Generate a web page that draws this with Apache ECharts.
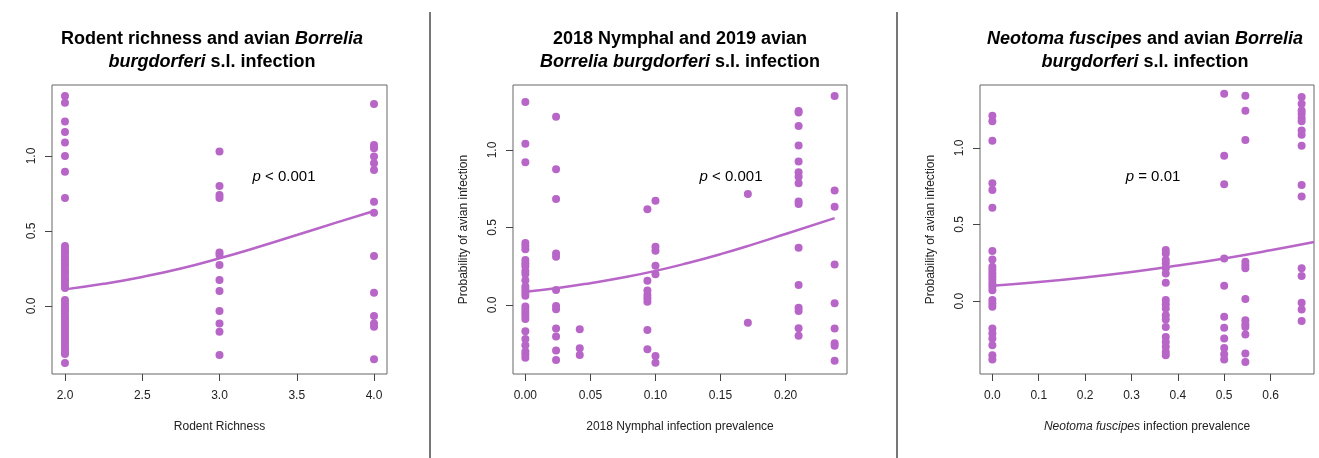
<!DOCTYPE html>
<html>
<head>
<meta charset="utf-8">
<script src="https://cdn.jsdelivr.net/npm/echarts@6/dist/echarts.min.js"></script>
<style>
  html, body { margin: 0; padding: 0; background: #fff; }
  #chart { width: 1319px; height: 458px; }
</style>
</head>
<body>
<div id="chart"></div>
<script>
// ---------- Panel 1: rodent richness ----------
const richnessLevels = [2, 3, 4];
const richnessTicks = [2.0, 2.5, 3.0, 3.5, 4.0];
const richnessPoints = [
  [1.40, 1.355, 1.23, 1.16, 1.09, 1.00, 0.895, 0.72,
   0.40, 0.38, 0.36, 0.35, 0.33, 0.31, 0.30, 0.28, 0.27, 0.25, 0.23, 0.22, 0.20, 0.18, 0.17, 0.15, 0.13, 0.12,
   0.04, 0.02, 0.00, -0.02, -0.03, -0.05, -0.07, -0.09, -0.10, -0.12, -0.14, -0.16, -0.18, -0.20, -0.22,
   -0.24, -0.26, -0.28, -0.30, -0.31, -0.32, -0.38],
  [1.03, 0.80, 0.74, 0.72, 0.357, 0.34, 0.273, 0.173, 0.10, -0.033, -0.116, -0.171, -0.327],
  [1.347, 1.073, 1.051, 0.996, 0.951, 0.907, 0.695, 0.622, 0.333, 0.089, -0.067, -0.116, -0.138, -0.355]
];
const richnessFitX = [2, 2.25, 2.5, 2.75, 3, 3.25, 3.5, 3.75, 4];
const richnessFitY = [0.111, 0.148, 0.194, 0.25, 0.318, 0.393, 0.473, 0.554, 0.633];

// ---------- Panel 2: 2018 nymphal prevalence ----------
const nymphLevels = [0, 0.0236, 0.0418, 0.0938, 0.10, 0.171, 0.21, 0.2377];
const nymphTicks = [0.00, 0.05, 0.10, 0.15, 0.20];
const nymphPoints = [
  [1.31, 1.04, 0.92, 0.40, 0.38, 0.36, 0.29, 0.27, 0.25, 0.22, 0.20, 0.16, 0.12, 0.10, 0.08, 0.06,
   -0.01, -0.03, -0.05, -0.07, -0.09, -0.17, -0.22, -0.26, -0.30, -0.32, -0.34],
  [1.215, 0.875, 0.684, 0.333, 0.312, 0.097, -0.006, -0.028, -0.152, -0.203, -0.293, -0.355],
  [-0.157, -0.279, -0.322],
  [0.617, 0.157, 0.093, 0.064, 0.043, 0.021, -0.161, -0.286],
  [0.673, 0.376, 0.350, 0.253, 0.199, -0.329, -0.372],
  [0.716, -0.114],
  [1.252, 1.241, 1.155, 1.028, 0.925, 0.856, 0.828, 0.785, 0.667, 0.652, 0.370, 0.129, -0.017, -0.038, -0.150, -0.199],
  [1.348, 0.738, 0.634, 0.262, 0.011, -0.152, -0.247, -0.262, -0.359]
];
const nymphFitX = [0, 0.025, 0.05, 0.075, 0.1, 0.125, 0.15, 0.175, 0.2, 0.2377];
const nymphFitY = [0.086, 0.110, 0.141, 0.177, 0.220, 0.271, 0.328, 0.391, 0.458, 0.560];

// ---------- Panel 3: Neotoma fuscipes prevalence ----------
const neotomaLevels = [0, 0.374, 0.5, 0.5457, 0.667];
const neotomaTicks = [0.0, 0.1, 0.2, 0.3, 0.4, 0.5, 0.6];
const neotomaPoints = [
  [1.209, 1.173, 1.046, 0.769, 0.725, 0.610, 0.327, 0.272, 0.224, 0.203, 0.181, 0.160, 0.139, 0.115, 0.094, 0.072,
   0.007, -0.015, -0.037, -0.178, -0.211, -0.244, -0.288, -0.353, -0.381],
  [0.334, 0.311, 0.268, 0.246, 0.214, 0.181, 0.120, 0.007, -0.020, -0.048, -0.092, -0.120, -0.168, -0.233,
   -0.266, -0.298, -0.331, -0.353],
  [1.353, 0.948, 0.762, 0.279, 0.100, -0.102, -0.174, -0.244, -0.305, -0.346, -0.381],
  [1.340, 1.242, 1.052, 0.257, 0.235, 0.214, 0.014, -0.124, -0.150, -0.168, -0.218, -0.342, -0.397],
  [1.331, 1.288, 1.244, 1.222, 1.194, 1.173, 1.113, 1.085, 1.013, 0.757, 0.682, 0.214, 0.164, -0.011, -0.055, -0.129]
];
const neotomaFitX = [0, 0.1, 0.2, 0.3, 0.4, 0.5, 0.6, 0.6937];
const neotomaFitY = [0.100, 0.125, 0.155, 0.190, 0.232, 0.279, 0.332, 0.386];

const yTicks = [0.0, 0.5, 1.0];

// ---------- styling ----------
const FONT = "'Liberation Sans', Arial, Helvetica, sans-serif";
const PURPLE = '#B865C8';
const BOX = '#666666';

function pairs(levels, cols) {
  const out = [];
  levels.forEach((x, i) => cols[i].forEach(y => out.push([x, y])));
  return out;
}
function zip(xs, ys) { return xs.map((x, i) => [x, ys[i]]); }

function xAxisCfg(idx, min, max, ticks, digits, name) {
  return {
    gridIndex: idx, type: 'value', min: min, max: max, position: 'bottom',
    axisLine: { show: false, onZero: false },
    splitLine: { show: false },
    axisTick: { show: true, inside: false, customValues: ticks, length: 7, lineStyle: { color: '#444', width: 1 } },
    axisLabel: { customValues: ticks, formatter: v => Number(v).toFixed(digits), margin: 16,
      fontFamily: FONT, fontSize: 12, color: '#222' },
    name: name, nameLocation: 'middle', nameGap: 47,
    nameTextStyle: { fontFamily: FONT, fontSize: 12, color: '#222',
      rich: { i: { fontStyle: 'italic', fontFamily: FONT, fontSize: 12, color: '#222' } } }
  };
}
function yAxisCfg(idx, min, max, name) {
  return {
    gridIndex: idx, type: 'value', min: min, max: max, position: 'left',
    axisLine: { show: false, onZero: false },
    splitLine: { show: false },
    axisTick: { show: true, inside: false, customValues: yTicks, length: 7, lineStyle: { color: '#444', width: 1 } },
    axisLabel: { customValues: yTicks, formatter: v => Number(v).toFixed(1), rotate: 90, margin: 14,
      fontFamily: FONT, fontSize: 12, color: '#222' },
    name: name, nameLocation: 'middle', nameGap: 43, nameRotate: 90,
    nameTextStyle: { fontFamily: FONT, fontSize: 12, color: '#222' }
  };
}
function titleCfg(text, cx) {
  const base = { fontFamily: FONT, fontSize: 18, fontWeight: 'bold', color: '#000', lineHeight: 23 };
  return {
    text: text, left: cx, top: 28, textAlign: 'center', padding: 0,
    textStyle: Object.assign({}, base, { rich: { i: Object.assign({}, base, { fontStyle: 'italic' }) } })
  };
}
function pText(text, cx) {
  return {
    type: 'text', x: cx, y: 177,
    style: { text: text, align: 'center', verticalAlign: 'middle', fontFamily: FONT, fontSize: 15, fill: '#000',
      rich: { i: { fontStyle: 'italic', fontFamily: FONT, fontSize: 15, fill: '#000' } } }
  };
}

const grids = [
  { left: 52, top: 85, width: 335, height: 289 },
  { left: 513, top: 85, width: 334, height: 289 },
  { left: 980, top: 85, width: 334, height: 289 }
].map(g => Object.assign(g, { show: true, borderColor: BOX, borderWidth: 1, backgroundColor: 'transparent' }));

function scatter(idx, data) {
  return { type: 'scatter', xAxisIndex: idx, yAxisIndex: idx, data: data, symbolSize: 8,
    itemStyle: { color: PURPLE, opacity: 1 }, z: 2, silent: true };
}
function fit(idx, data) {
  return { type: 'line', xAxisIndex: idx, yAxisIndex: idx, data: data, smooth: true, showSymbol: false,
    lineStyle: { color: PURPLE, width: 2.5 }, z: 3, silent: true };
}

const option = {
  backgroundColor: '#ffffff',
  animation: false,
  title: [
    titleCfg('Rodent richness and avian {i|Borrelia}\n{i|burgdorferi} s.l. infection', 212),
    titleCfg('2018 Nymphal and 2019 avian\n{i|Borrelia burgdorferi} s.l. infection', 680),
    titleCfg('{i|Neotoma fuscipes} and avian {i|Borrelia}\n{i|burgdorferi} s.l. infection', 1145)
  ],
  grid: grids,
  xAxis: [
    xAxisCfg(0, 1.916, 4.084, richnessTicks, 1, 'Rodent Richness'),
    xAxisCfg(1, -0.0095, 0.2472, nymphTicks, 2, '2018 Nymphal infection prevalence'),
    xAxisCfg(2, -0.0267, 0.6937, neotomaTicks, 1, '{i|Neotoma fuscipes} infection prevalence')
  ],
  yAxis: [
    yAxisCfg(0, -0.453, 1.473, ''),
    yAxisCfg(1, -0.445, 1.419, 'Probability of avian infection'),
    yAxisCfg(2, -0.475, 1.41, 'Probability of avian infection')
  ],
  series: [
    scatter(0, pairs(richnessLevels, richnessPoints)),
    fit(0, zip(richnessFitX, richnessFitY)),
    scatter(1, pairs(nymphLevels, nymphPoints)),
    fit(1, zip(nymphFitX, nymphFitY)),
    scatter(2, pairs(neotomaLevels, neotomaPoints)),
    fit(2, zip(neotomaFitX, neotomaFitY))
  ],
  graphic: [
    { type: 'line', shape: { x1: 430, y1: 12, x2: 430, y2: 458 }, style: { stroke: '#777', lineWidth: 2 } },
    { type: 'line', shape: { x1: 897, y1: 12, x2: 897, y2: 458 }, style: { stroke: '#777', lineWidth: 2 } },
    pText('{i|p} < 0.001', 284),
    pText('{i|p} < 0.001', 731),
    pText('{i|p} = 0.01', 1153)
  ]
};

const chart = echarts.init(document.getElementById('chart'), null, { renderer: 'canvas' });
chart.setOption(option);
</script>
</body>
</html>
